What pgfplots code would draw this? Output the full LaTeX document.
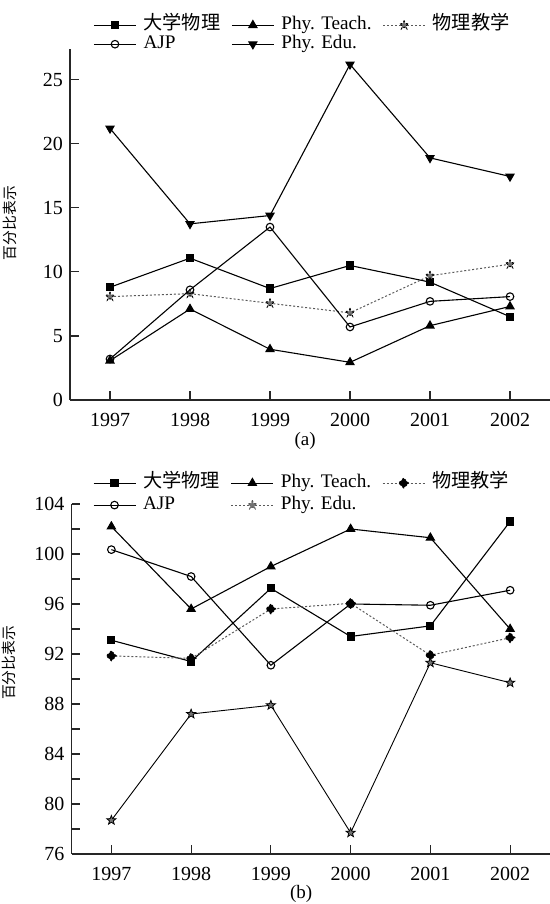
\documentclass[border=0pt]{standalone}
\usepackage{pgfplots}
\pgfplotsset{compat=1.18}
\usepackage{fontspec}
\setmainfont{Liberation Serif}
\newfontfamily\cjk{Noto Sans CJK SC}
\tikzset{dotsty/.style={black!65, line width=0.5pt, dash pattern=on 1pt off 1pt}}
\pgfdeclareplotmark{pstar}{%
  \pgfpathmoveto{\pgfpointpolar{90}{\pgfplotmarksize}}%
  \pgfpathlineto{\pgfpointpolar{126}{0.42\pgfplotmarksize}}%
  \pgfpathlineto{\pgfpointpolar{162}{\pgfplotmarksize}}%
  \pgfpathlineto{\pgfpointpolar{198}{0.42\pgfplotmarksize}}%
  \pgfpathlineto{\pgfpointpolar{234}{\pgfplotmarksize}}%
  \pgfpathlineto{\pgfpointpolar{270}{0.42\pgfplotmarksize}}%
  \pgfpathlineto{\pgfpointpolar{306}{\pgfplotmarksize}}%
  \pgfpathlineto{\pgfpointpolar{342}{0.42\pgfplotmarksize}}%
  \pgfpathlineto{\pgfpointpolar{18}{\pgfplotmarksize}}%
  \pgfpathlineto{\pgfpointpolar{54}{0.42\pgfplotmarksize}}%
  \pgfpathclose
  \pgfusepathqfillstroke
}
\begin{document}
\begin{tikzpicture}
\path[use as bounding box] (0pt,0pt) rectangle (275pt,452pt);
\pgfplotsset{
  legend image code/.code={%
    \draw[mark repeat=2,mark phase=2,#1] plot coordinates {(0pt,0pt) (10.5pt,0pt) (21pt,0pt)};%
  },
  mystyle/.style={
    scale only axis,
    axis lines*=left,
    axis line style={black!85, line width=0.7pt, -},
    tick align=inside,
    major tick length=4.5pt,
    minor tick length=4.5pt,
    every tick/.style={black!85, line width=0.6pt},
    xmin=1996.5, xmax=2002.5,
    xtick={1997,1998,1999,2000,2001,2002},
    xticklabels={1997,1998,1999,2000,2001,2002},
    /pgf/number format/assume math mode=true,
    tick label style={font=\fontsize{10}{11}\selectfont},
    xticklabel style={yshift=-3pt},
    legend columns=3,
    legend cell align=left,
    legend style={draw=none, fill=none, font=\fontsize{9.6}{11}\selectfont, anchor=north west, inner sep=0pt, row sep=0pt,
      nodes={inner sep=0.5pt, text height=6.5pt, text depth=2pt},
      /tikz/every odd column/.append style={column sep=3pt},
      /tikz/every even column/.append style={column sep=5pt}},
    every axis plot/.append style={line width=0.55pt, black, mark options={solid}},
    ylabel={\cjk 百分比表示},
    ylabel style={font=\fontsize{7.4}{8}\selectfont, anchor=center},
    xlabel style={anchor=center, font=\fontsize{9.5}{10}\selectfont},
    clip=false,
  },
}
% ---------- panel (a)
\begin{axis}[mystyle,
  at={(35pt,252pt)}, anchor=south west, width=240pt, height=175.5pt,
  ymin=0, ymax=27.4, ytick={0,5,10,15,20,25},
  ylabel style={at={(axis description cs:-0.125,0.504)}},
  xlabel={(a)}, xlabel style={at={(axis description cs:0.49,-0.116)}},
  legend style={at={(axis description cs:0.048,1.096)}},
]
\addplot[mark=square*, mark size=1.75pt] coordinates {(1997,8.8) (1998,11.07) (1999,8.7) (2000,10.5) (2001,9.2) (2002,6.5)};
\addlegendentry{\cjk 大学物理}
\addplot[mark=triangle*, mark size=2.3pt] coordinates {(1997,3.07) (1998,7.1) (1999,3.96) (2000,2.94) (2001,5.8) (2002,7.3)};
\addlegendentry{Phy. Teach.}
\addplot[dotsty, mark=pstar, mark size=2.4pt, mark options={black, fill=black!55, line width=0.4pt}] coordinates {(1997,8.07) (1998,8.3) (1999,7.55) (2000,6.8) (2001,9.7) (2002,10.6)};
\addlegendentry{\cjk 物理教学}
\addplot[mark=o, mark size=1.9pt, mark options={fill=white}] coordinates {(1997,3.2) (1998,8.6) (1999,13.5) (2000,5.7) (2001,7.7) (2002,8.07)};
\addlegendentry{AJP}
\addplot[mark=triangle*, mark size=2.3pt, mark options={rotate=180}] coordinates {(1997,21.2) (1998,13.75) (1999,14.4) (2000,26.2) (2001,18.9) (2002,17.45)};
\addlegendentry{Phy. Edu.}
\end{axis}
% ---------- panel (b)
\begin{axis}[mystyle,
  at={(35.75pt,25pt)}, anchor=south west, width=239.25pt, height=175pt,
  ymin=76, ymax=104, ytick={76,80,84,88,92,96,100,104},
  minor ytick={78,82,86,90,94,98,102},
  ylabel style={at={(axis description cs:-0.13,0.546)}},
  xlabel={(b)}, xlabel style={at={(axis description cs:0.48,-0.115)}},
  legend style={at={(axis description cs:0.044,1.088)}, row sep=1.5pt},
]
\addplot[mark=square*, mark size=1.75pt] coordinates {(1997,93.1) (1998,91.4) (1999,97.25) (2000,93.4) (2001,94.25) (2002,102.6)};
\addlegendentry{\cjk 大学物理}
\addplot[mark=triangle*, mark size=2.3pt] coordinates {(1997,102.2) (1998,95.6) (1999,99.0) (2000,102.0) (2001,101.3) (2002,94.0)};
\addlegendentry{Phy. Teach.}
\addplot[dotsty, mark=square*, mark size=1.7pt, mark options={black, rotate=45}] coordinates {(1997,91.85) (1998,91.65) (1999,95.6) (2000,96.05) (2001,91.9) (2002,93.3)};
\addlegendentry{\cjk 物理教学}
\addplot[mark=o, mark size=1.9pt, mark options={fill=white}] coordinates {(1997,100.35) (1998,98.2) (1999,91.1) (2000,96.0) (2001,95.9) (2002,97.1)};
\addlegendentry{AJP}
\addplot[mark=pstar, mark size=2.4pt, line width=0.45pt, mark options={fill=black!55, line width=0.4pt}, legend image post style={dotsty}] coordinates {(1997,78.7) (1998,87.2) (1999,87.9) (2000,77.7) (2001,91.3) (2002,89.7)};
\addlegendentry{Phy. Edu.}
\end{axis}
\end{tikzpicture}
\end{document}
